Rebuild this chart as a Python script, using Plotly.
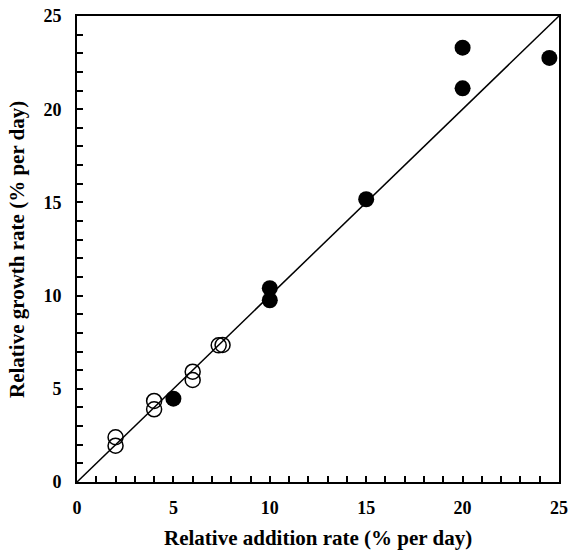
import plotly.graph_objects as go

open_x = [2.0, 2.0, 4.0, 4.0, 6.0, 6.0, 7.35, 7.55]
open_y = [2.4, 1.95, 4.35, 3.9, 5.92, 5.47, 7.33, 7.35]
filled_x = [5.0, 10.0, 10.0, 15.0, 20.0, 20.0, 24.5]
filled_y = [4.47, 10.4, 9.75, 15.17, 23.3, 21.12, 22.75]
line_x = [0, 25]
line_y = [0, 25]
tick_vals = [0, 5, 10, 15, 20, 25]
tick_text = ["0", "5", "10", "15", "20", "25"]
x_title = "Relative addition rate (% per day)"
y_title = "Relative growth rate (% per day)"

fig = go.Figure()
fig.add_trace(go.Scatter(x=line_x, y=line_y, mode="lines",
                         line=dict(color="black", width=1.5), showlegend=False, hoverinfo="skip"))
fig.add_trace(go.Scatter(x=open_x, y=open_y, mode="markers",
                         marker=dict(symbol="circle-open", size=15, color="black", line=dict(width=1.5)),
                         showlegend=False, cliponaxis=False))
fig.add_trace(go.Scatter(x=filled_x, y=filled_y, mode="markers",
                         marker=dict(symbol="circle", size=16, color="black"),
                         showlegend=False, cliponaxis=False))

axis_common = dict(
    range=[0, 25], tickvals=tick_vals, ticktext=tick_text,
    ticks="inside", ticklen=6, tickwidth=1.5, tickcolor="black",
    minor=dict(ticks="inside", dtick=1, ticklen=6, tickwidth=1.5, tickcolor="black"),
    showline=True, linecolor="black", linewidth=2, mirror=True,
    showgrid=False, zeroline=False, automargin=False,
    tickfont=dict(family="Liberation Serif", size=18, color="black", weight="bold"),
)

title_font = dict(family="Liberation Serif", size=21, color="black", weight="bold")

fig.update_layout(
    width=569, height=550,
    margin=dict(l=77, r=10, t=16, b=68),
    paper_bgcolor="white", plot_bgcolor="white",
    xaxis=dict(**axis_common, ticklabelstandoff=8),
    yaxis=dict(**axis_common, ticklabelstandoff=10),
    annotations=[
        dict(text=x_title, xref="paper", yref="paper", x=0.5, y=-0.12,
             xanchor="center", yanchor="middle", showarrow=False, font=title_font),
        dict(text=y_title, xref="paper", yref="paper", x=-0.1245, y=0.5,
             xanchor="center", yanchor="middle", showarrow=False, textangle=-90, font=title_font),
    ],
)

fig.write_html("out.html")
